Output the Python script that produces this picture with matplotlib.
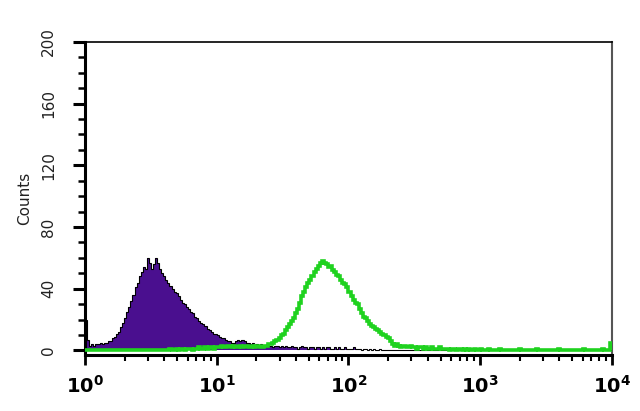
import matplotlib
matplotlib.use("Agg")
import matplotlib.pyplot as plt
import numpy as np

# channel edges: 64 channels per decade, 10^0 .. 10^4
bins_per_decade = 64
decades = 4

# counts, one per channel (16 channels per row)
purple_counts = [
    20, 7, 3, 4, 3, 4, 4, 5, 4, 5, 5, 6, 6, 8, 9, 11,
    12, 15, 18, 21, 25, 28, 32, 36, 41, 44, 48, 51, 54, 53, 60, 57,
    53, 56, 60, 57, 53, 50, 48, 46, 44, 42, 40, 38, 37, 35, 33, 31,
    30, 28, 27, 25, 24, 22, 21, 19, 18, 17, 16, 14, 13, 12, 11, 11,
    10, 9, 8, 8, 7, 6, 6, 5, 5, 6, 7, 6, 7, 6, 5, 5,
    4, 5, 4, 4, 3, 4, 3, 3, 4, 3, 3, 2, 3, 3, 2, 3,
    2, 3, 2, 2, 3, 2, 2, 1, 2, 3, 2, 2, 1, 2, 2, 1,
    2, 2, 1, 2, 1, 2, 2, 1, 1, 2, 1, 2, 1, 1, 2, 1,
    1, 1, 2, 1, 1, 1, 0, 1, 1, 0, 1, 0, 1, 0, 0, 1,
    0, 0, 0, 0, 0, 0, 0, 0, 0, 0, 0, 0, 0, 0, 0, 0,
    0, 0, 0, 0, 0, 0, 0, 0, 0, 0, 0, 0, 0, 0, 0, 0,
    0, 0, 0, 0, 0, 0, 0, 0, 0, 0, 0, 0, 0, 0, 0, 0,
    0, 0, 0, 0, 0, 0, 0, 0, 0, 0, 0, 0, 0, 0, 0, 0,
    0, 0, 0, 0, 0, 0, 0, 0, 0, 0, 0, 0, 0, 0, 0, 0,
    0, 0, 0, 0, 0, 0, 0, 0, 0, 0, 0, 0, 0, 0, 0, 0,
    0, 0, 0, 0, 0, 0, 0, 0, 0, 0, 0, 0, 0, 0, 0, 0,
]
green_counts = [
    0, 0, 0, 0, 0, 0, 0, 0, 0, 0, 0, 0, 0, 0, 0, 0,
    0, 0, 0, 0, 0, 0, 0, 0, 0, 0, 0, 0, 0, 0, 0, 0,
    0, 0, 0, 0, 0, 0, 0, 0, 0, 1, 0, 0, 1, 0, 1, 1,
    0, 1, 1, 1, 0, 1, 1, 2, 1, 1, 2, 1, 2, 2, 1, 2,
    2, 2, 3, 2, 2, 3, 3, 2, 3, 2, 2, 3, 2, 3, 3, 2,
    2, 3, 2, 3, 3, 2, 2, 3, 3, 4, 4, 5, 6, 7, 8, 10,
    11, 13, 15, 17, 19, 21, 24, 27, 31, 35, 38, 41, 44, 46, 48, 51,
    53, 55, 57, 58, 57, 56, 54, 55, 52, 51, 49, 48, 46, 44, 43, 41,
    38, 35, 33, 31, 30, 27, 24, 22, 21, 19, 17, 16, 15, 14, 13, 12,
    11, 10, 9, 8, 6, 4, 3, 4, 3, 2, 3, 3, 2, 2, 3, 2,
    2, 1, 2, 2, 1, 2, 1, 1, 2, 1, 1, 1, 2, 1, 1, 1,
    1, 0, 1, 1, 0, 1, 1, 0, 1, 0, 1, 0, 0, 1, 0, 0,
    1, 0, 0, 0, 1, 0, 0, 0, 0, 1, 0, 0, 0, 0, 0, 0,
    0, 0, 0, 1, 0, 0, 0, 0, 0, 0, 0, 1, 0, 0, 0, 0,
    0, 0, 0, 0, 0, 0, 1, 0, 0, 0, 0, 0, 0, 0, 0, 0,
    0, 0, 1, 0, 0, 0, 0, 0, 0, 0, 0, 1, 0, 0, 0, 5,
]

y_ticks = [0, 40, 80, 120, 160, 200]
x_ticks = [1, 10, 100, 1000, 10000]
x_tick_labels = [r"$\mathbf{10^{0}}$", r"$\mathbf{10^{1}}$", r"$\mathbf{10^{2}}$",
                 r"$\mathbf{10^{3}}$", r"$\mathbf{10^{4}}$"]

edges = 10.0 ** (np.arange(bins_per_decade * decades + 1) / bins_per_decade)

fig = plt.figure(figsize=(6.4, 4.11), dpi=100)
ax = fig.add_axes([0.133, 0.136, 0.823, 0.762])

# filled purple histogram with a thin black outline
ax.stairs(purple_counts, edges, fill=True, color="#4a0f8f", zorder=2)
ax.stairs(purple_counts, edges, color="black", lw=0.8, zorder=3)
# green outline histogram, runs along the zero line too
ax.stairs(green_counts, edges, color="#1fd21f", lw=2.6, zorder=4)

ax.set_xscale("log")
ax.set_xlim(1, 10000)
ax.set_ylim(-3, 200)

ax.set_yticks(y_ticks)
ax.set_yticklabels([str(v) for v in y_ticks], rotation=90, va="center", fontsize=11, color="#222222")
ax.set_yticks(np.arange(0, 201, 10), minor=True)
ax.tick_params(axis="y", which="major", direction="out", length=9, width=2.2, pad=12)
ax.tick_params(axis="y", which="minor", direction="out", length=5, width=1.8)

ax.set_xticks(x_ticks)
ax.set_xticklabels(x_tick_labels, fontsize=14)
ax.tick_params(axis="x", which="major", direction="out", length=7, width=2, pad=7)
ax.tick_params(axis="x", which="minor", direction="out", length=4, width=1.5)

ax.set_ylabel("Counts", fontsize=11, labelpad=6, color="#222222")

for side in ["left", "bottom"]:
    ax.spines[side].set_linewidth(2.2)
ax.spines["top"].set_linewidth(1.2)
ax.spines["right"].set_linewidth(1.5)
ax.spines["right"].set_color("#555555")

fig.savefig("out.png", dpi=100)
